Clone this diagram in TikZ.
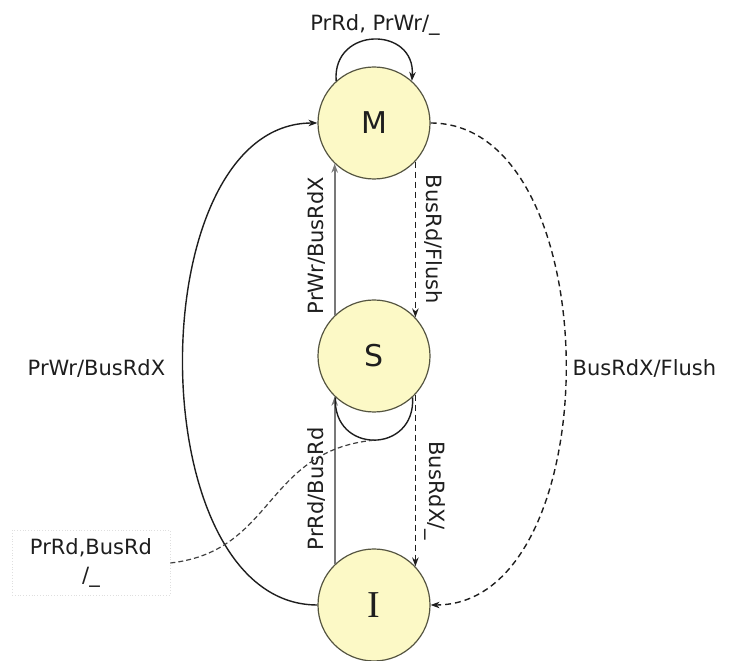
\documentclass[tikz,border=0pt]{standalone}
\usepackage{fontspec}
\setmainfont{DejaVu Sans}
\newfontfamily\serifI{Liberation Serif}
\usetikzlibrary{arrows.meta}

\definecolor{statefill}{RGB}{252,249,198}
\definecolor{stateedge}{RGB}{85,85,65}
\definecolor{linecol}{RGB}{30,30,30}
\definecolor{vline}{RGB}{120,120,120}
\definecolor{labeltext}{RGB}{30,30,30}

\begin{document}
\begin{tikzpicture}[x=1pt,y=1pt,
  state/.style={circle, draw=stateedge, fill=statefill, line width=1.2pt,
    minimum size=112pt, inner sep=0pt, text=labeltext,
    font=\fontsize{30}{30}\selectfont},
  lbl/.style={font=\fontsize{21}{28}\selectfont, text=labeltext},
  tip/.style={-{Stealth[length=9pt,width=6.5pt]}},
  arc/.style={draw=linecol, line width=1.4pt, tip},
  dasharc/.style={arc, dash pattern=on 6pt off 4pt},
  vsolid/.style={draw=vline, line width=2pt, tip},
  vdash/.style={draw=linecol, line width=1.4pt, dash pattern=on 6pt off 4pt, tip},
  loopline/.style={draw=linecol, line width=1.4pt},
  callout/.style={draw=linecol!85, line width=1.2pt, dash pattern=on 5pt off 3pt},
  notebox/.style={draw=gray!25, dotted, line width=0.8pt, align=center,
    minimum width=158pt, minimum height=65pt, inner sep=0pt}
]
\useasboundingbox (0,0) rectangle (731,661);

% the three cache-line states
\node[state] (M) at (374,538) {M};
\node[state] (S) at (374,305) {S};
\node[state, font=\serifI\fontsize{38}{38}\selectfont] (I) at (374,56) {I};

% self loop on M
\draw[arc] (M.132) .. controls +(-4,55) and +(4,55) .. (M.48);
\node[lbl, anchor=base] (mloop) at (375,630) {PrRd, PrWr/\_};

% transitions between M and S
\draw[vsolid] (S.134) -- (M.226)
  node[pos=0.46, sloped, above=5pt, lbl] {PrWr/BusRdX};
\draw[vdash] (M.-43) -- (S.43)
  node[midway, sloped, above=5pt, lbl] {BusRd/Flush};

% transitions between S and I
\draw[vsolid] (I.134) -- (S.226)
  node[pos=0.45, sloped, above=5pt, lbl] {PrRd/BusRd};
\draw[vdash] (S.-43) -- (I.43)
  node[pos=0.56, sloped, above=5pt, lbl] {BusRdX/\_};

% self loop on S
\draw[loopline] (S.227) .. controls +(-3,-57) and +(3,-57) .. (S.313)
  coordinate[pos=0.5] (sloop);

% outer transitions between I and M
\draw[arc] (I.west) .. controls +(-179,0) and +(-179,0) .. (M.west)
  node[midway, left=14pt, yshift=-5pt, lbl] {PrWr/BusRdX};
\draw[dasharc] (M.east) .. controls +(180,0) and +(180,0) .. (I.east)
  node[midway, right=3pt, yshift=-5pt, lbl] {BusRdX/Flush};

% note for the S self loop
\node[notebox, lbl] (note) at (91,98) {PrRd,BusRd\\/\_};
\draw[callout] (note.east) .. controls +(105,12) and +(-110,-11) .. (sloop);
\end{tikzpicture}
\end{document}
